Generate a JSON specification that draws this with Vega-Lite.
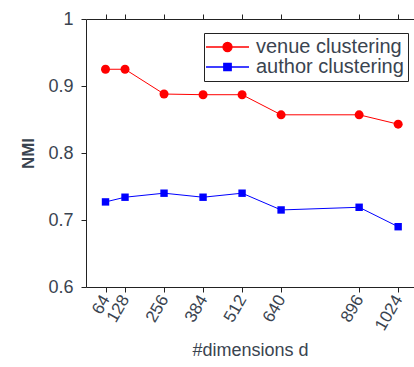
{
  "$schema": "https://vega.github.io/schema/vega-lite/v6.json",
  "width": 328,
  "height": 268,
  "autosize": {"type": "none"},
  "padding": {"left": 86, "top": 19, "right": 0, "bottom": 80},
  "background": "white",
  "config": {
    "view": {"stroke": null},
    "font": "Liberation Sans",
    "axis": {
      "domainColor": "#222222",
      "tickColor": "#222222",
      "labelColor": "#3a4450",
      "titleColor": "#3a4450",
      "labelFont": "Liberation Sans",
      "titleFont": "Liberation Sans",
      "grid": false
    }
  },
  "data": {
    "values": [
      {"series": "venue clustering", "d": 64, "nmi": 0.925},
      {"series": "venue clustering", "d": 128, "nmi": 0.925},
      {"series": "venue clustering", "d": 256, "nmi": 0.888},
      {"series": "venue clustering", "d": 384, "nmi": 0.887},
      {"series": "venue clustering", "d": 512, "nmi": 0.887},
      {"series": "venue clustering", "d": 640, "nmi": 0.857},
      {"series": "venue clustering", "d": 896, "nmi": 0.857},
      {"series": "venue clustering", "d": 1024, "nmi": 0.843},
      {"series": "author clustering", "d": 64, "nmi": 0.727},
      {"series": "author clustering", "d": 128, "nmi": 0.734},
      {"series": "author clustering", "d": 256, "nmi": 0.740},
      {"series": "author clustering", "d": 384, "nmi": 0.734},
      {"series": "author clustering", "d": 512, "nmi": 0.740},
      {"series": "author clustering", "d": 640, "nmi": 0.715},
      {"series": "author clustering", "d": 896, "nmi": 0.719},
      {"series": "author clustering", "d": 1024, "nmi": 0.690}
    ]
  },
  "resolve": {"axis": {"x": "independent"}},
  "layer": [
    {
      "mark": {"type": "line", "strokeWidth": 1, "clip": true},
      "encoding": {
        "x": {
          "field": "d", "type": "quantitative",
          "scale": {"domain": [0, 1076], "nice": false, "zero": false},
          "axis": {
            "orient": "bottom",
            "values": [64, 128, 256, 384, 512, 640, 896, 1024],
            "format": "d",
            "labelAngle": -60,
            "labelAlign": "right",
            "labelBaseline": "middle",
            "labelFontSize": 17,
            "labelPadding": 4,
            "tickSize": 5,
            "labelOverlap": false,
            "title": "#dimensions d",
            "titleFontSize": 18,
            "titleFontWeight": "normal",
            "titlePadding": 9
          }
        },
        "y": {
          "field": "nmi", "type": "quantitative",
          "scale": {"domain": [0.6, 1], "nice": false, "zero": false},
          "axis": {
            "values": [0.6, 0.7, 0.8, 0.9, 1],
            "format": ".1~f",
            "labelFontSize": 18,
            "labelPadding": 8,
            "tickSize": 5,
            "title": "NMI",
            "titleFontSize": 17,
            "titleFontWeight": "bold",
            "titlePadding": 10
          }
        },
        "color": {
          "field": "series", "type": "nominal",
          "scale": {"domain": ["venue clustering", "author clustering"], "range": ["#ff0000", "#0000ff"]},
          "legend": {
            "orient": "none",
            "legendX": 118,
            "legendY": 14,
            "title": null,
            "strokeColor": "#222222",
            "fillColor": "white",
            "padding": 4,
            "labelFont": "Liberation Sans",
            "labelFontSize": 20,
            "labelColor": "#3a4450",
            "labelOffset": 18.5,
            "symbolOffset": 9.5,
            "rowPadding": 0,
            "symbolSize": 100,
            "symbolStrokeWidth": 1.3,
            "encode": {
              "symbols": {
                "update": {
                  "shape": {"signal": "datum.value === 'venue clustering' ? 'M-4.3,0H4.3M0.9,0A0.9,0.9 0 1,1 -0.9,0A0.9,0.9 0 1,1 0.9,0Z' : 'M-4.3,0H4.3M-0.74,-0.74H0.74V0.74H-0.74Z'"},
                  "fill": {"signal": "datum.value === 'venue clustering' ? '#ff0000' : '#0000ff'"},
                  "stroke": {"signal": "datum.value === 'venue clustering' ? '#ff0000' : '#0000ff'"},
                  "fillOpacity": {"value": 1},
                  "opacity": {"value": 1}
                }
              }
            }
          }
        }
      }
    },
    {
      "transform": [{"filter": "datum.series === 'venue clustering'"}],
      "mark": {"type": "point", "filled": true, "opacity": 1, "shape": "circle", "size": 81, "color": "#ff0000", "clip": true},
      "encoding": {
        "x": {
          "field": "d", "type": "quantitative",
          "axis": {
            "orient": "top",
            "values": [64, 128, 256, 384, 512, 640, 896, 1024],
            "labels": false,
            "tickSize": 5,
            "title": null
          }
        },
        "y": {"field": "nmi", "type": "quantitative"}
      }
    },
    {
      "transform": [{"filter": "datum.series === 'author clustering'"}],
      "mark": {"type": "point", "filled": true, "opacity": 1, "shape": "square", "size": 55, "color": "#0000ff", "clip": true},
      "encoding": {
        "x": {"field": "d", "type": "quantitative", "axis": null},
        "y": {"field": "nmi", "type": "quantitative"}
      }
    }
  ]
}
